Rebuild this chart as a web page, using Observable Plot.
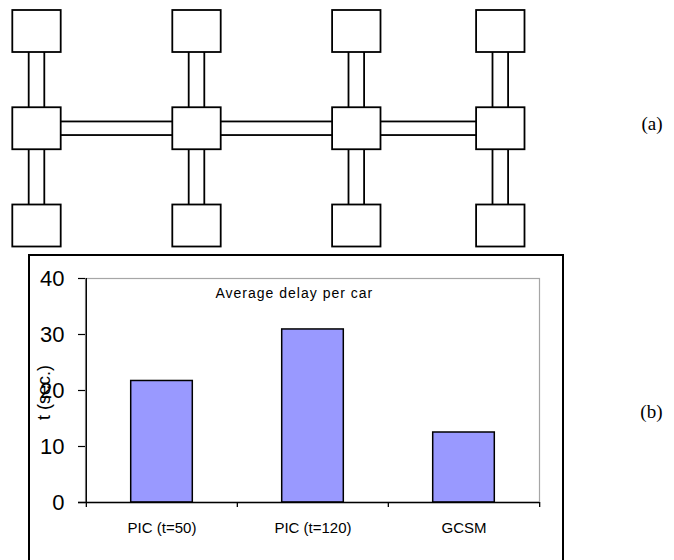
<!DOCTYPE html>
<html><head><meta charset="utf-8">
<script src="https://cdn.jsdelivr.net/npm/d3@7"></script>
<script src="https://cdn.jsdelivr.net/npm/@observablehq/plot@0.6"></script>
<style>
html,body{margin:0;padding:0;background:#fff;overflow:hidden;}
#fig{position:relative;width:674px;height:560px;overflow:hidden;background:#fff;}
#fig .layer{position:absolute;left:0;}
#outer-frame{position:absolute;left:28px;top:254px;width:536px;height:330px;border:2px solid #000;box-sizing:border-box;pointer-events:none;}
</style></head><body>
<div id="fig"><div id="outer-frame"></div></div>
<script>
// ---- data ----
const junctionColumns = [0, 1, 2, 3];
const junctionRows = [0, 1, 2];
const arterialRow = 1;
const methods = ["PIC (t=50)", "PIC (t=120)", "GCSM"];
const delays = [21.7, 30.9, 12.5];
const yTicks = [0, 10, 20, 30, 40];
const panelLabels = ["(a)", "(b)"];
const chartTitle = "Average delay per car";
const yLabel = "t (sec.)";

// ---- derived tables ----
const nodes = junctionColumns.flatMap(c => junctionRows.map(r => ({col: c, row: r})));
const sideRoads = junctionColumns.flatMap(c => junctionRows.slice(0, -1).map(r => ({col: c, from: r, to: r + 1})));
const mainRoads = junctionColumns.slice(0, -1).map(c => ({from: c, to: c + 1, row: arterialRow}));
const bars = methods.map((m, i) => ({method: m, delay: delays[i]}));

const fig = document.getElementById("fig");
const ink = {fill: "white", stroke: "black", strokeWidth: 1.8};

// ---- (a) network diagram ----
const diagram = Plot.plot({
  width: 674, height: 250, margin: 0,
  style: {background: "transparent"},
  x: {type: "linear", domain: [0, 1, 2, 3], range: [36.5, 196.5, 356.3, 500.3], axis: null},
  y: {type: "linear", domain: [0, 2], range: [31, 225.5], axis: null},
  marks: [
    Plot.rect(sideRoads, {x1: "col", x2: "col", y1: "from", y2: "to", insetLeft: -7.8, insetRight: -7.8, ...ink}),
    Plot.rect(mainRoads, {x1: "from", x2: "to", y1: "row", y2: "row", insetTop: -6.8, insetBottom: -6.8, ...ink}),
    Plot.rect(nodes, {x1: "col", x2: "col", y1: "row", y2: "row", insetLeft: -24.2, insetRight: -24.2, insetTop: -21, insetBottom: -21, ...ink}),
    Plot.text([panelLabels[0]], {text: d => d, frameAnchor: "right", dx: -12, dy: -2, textAnchor: "end", fontSize: 19, fontFamily: "Liberation Serif", fill: "black"})
  ]
});
diagram.classList.add("layer");
diagram.style.top = "0px";
fig.insertBefore(diagram, fig.firstChild);

// ---- (b) bar chart ----
const plotW = 674 - 85 - 135;
const half = plotW / methods.length / 2;
const chart = Plot.plot({
  width: 674, height: 306,
  marginLeft: 85, marginRight: 135, marginTop: 24, marginBottom: 58,
  style: {background: "transparent", fontFamily: "Liberation Sans", color: "black"},
  x: {type: "band", domain: methods, padding: 0, axis: null},
  y: {domain: [0, 40], axis: null},
  marks: [
    Plot.frame({stroke: "#a6a6a6", strokeWidth: 1.2}),
    Plot.barY(bars, {x: "method", y: "delay", fill: "#9999ff", stroke: "black", strokeWidth: 1.5, insetLeft: 44.7, insetRight: 44.7}),
    Plot.axisY({ticks: yTicks, tickFormat: d => String(d), tickSize: 7, tickPadding: 14, fontSize: 22, label: null, stroke: "black", strokeWidth: 1.2}),
    Plot.axisX({tickSize: 0, tickPadding: 20, fontSize: 15, label: null}),
    Plot.ruleY([0], {insetLeft: -7, stroke: "black", strokeWidth: 1.3}),
    Plot.ruleX([methods[0]], {x: d => d, dx: -half, insetBottom: -5, stroke: "black", strokeWidth: 1.3}),
    Plot.ruleX(methods.slice(1), {x: d => d, dx: -half, y1: 0, y2: 0, insetBottom: -5, stroke: "black", strokeWidth: 1.3}),
    Plot.ruleX(methods.slice(-1), {x: d => d, dx: half, y1: 0, y2: 0, insetBottom: -5, stroke: "black", strokeWidth: 1.3}),
    Plot.text([chartTitle], {text: d => d, frameAnchor: "top-left", dx: 130, dy: 15, textAnchor: "start", lineAnchor: "middle", fontSize: 14, fill: "black"}),
    Plot.text([yLabel], {text: d => d, frameAnchor: "left", dx: -41, dy: 2, rotate: -90, textAnchor: "middle", lineAnchor: "middle", fontSize: 18, fill: "black"}),
    Plot.text([panelLabels[1]], {text: d => d, frameAnchor: "right", dx: 123, dy: 21, textAnchor: "end", fontSize: 19, fontFamily: "Liberation Serif", fill: "black"})
  ]
});
chart.classList.add("layer");
chart.style.top = "254px";
d3.select(chart).selectAll("text").filter(function() { return this.textContent === chartTitle; }).attr("letter-spacing", "1px");
fig.insertBefore(chart, document.getElementById("outer-frame"));
</script>
</body></html>
